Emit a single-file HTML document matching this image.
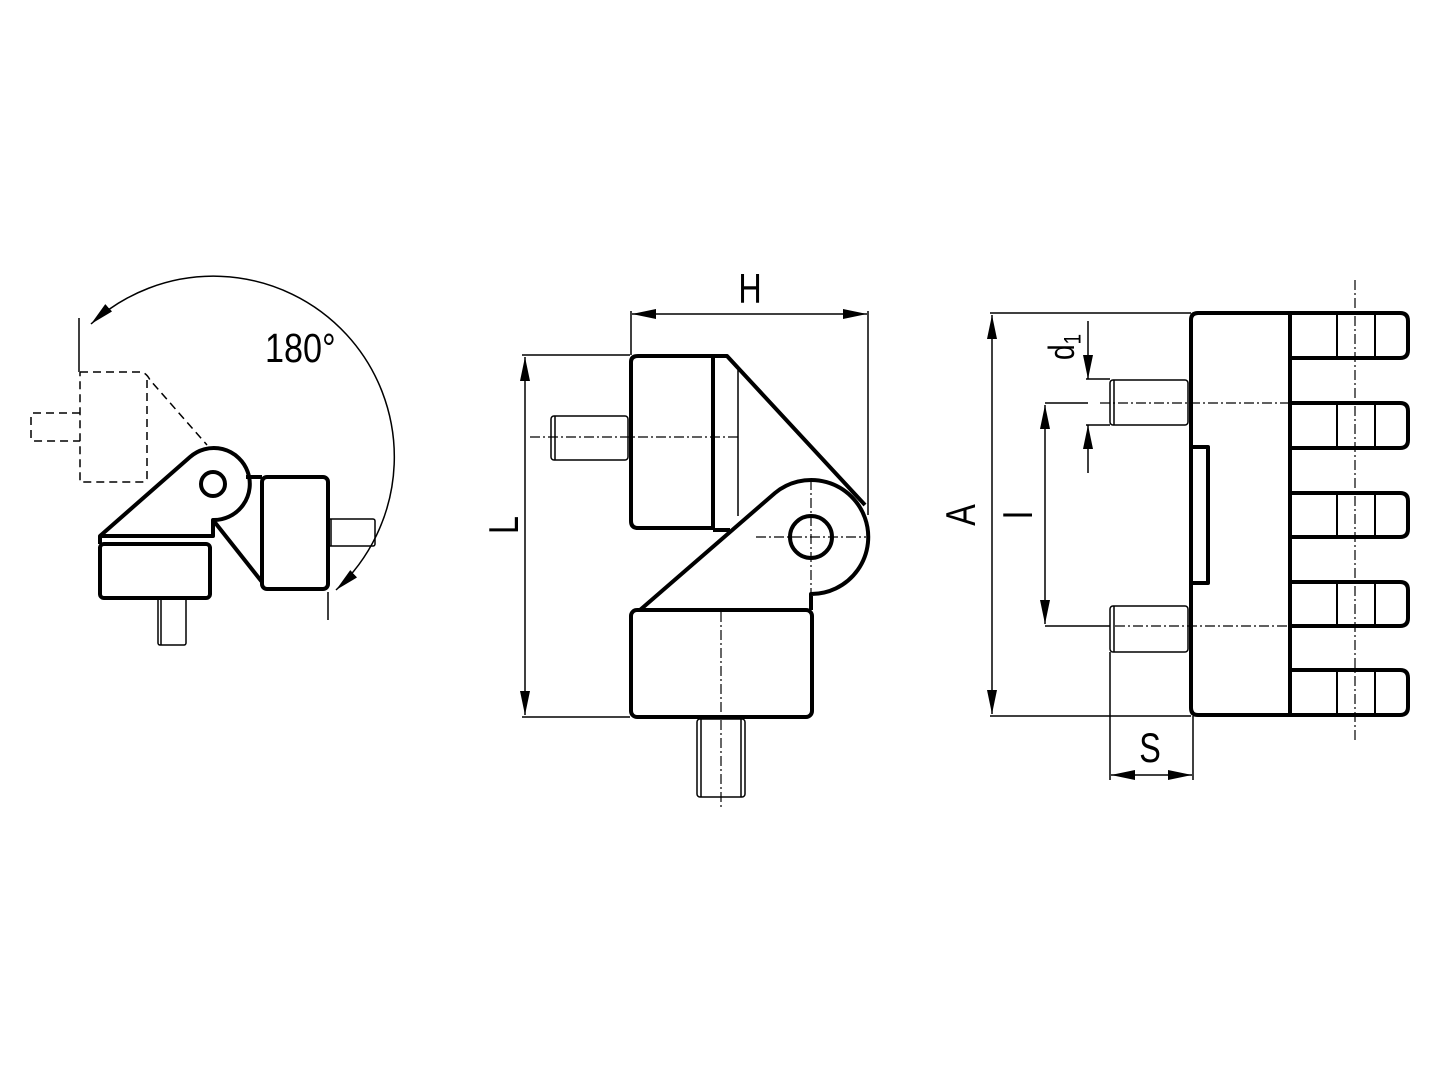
<!DOCTYPE html>
<html><head><meta charset="utf-8"><style>body{margin:0;background:#fff}svg{display:block}text{font-family:"Liberation Sans",sans-serif;fill:#000}</style></head><body>
<svg width="1440" height="1080" viewBox="0 0 1440 1080" xmlns="http://www.w3.org/2000/svg">
<defs>
<marker id="ar" viewBox="0 0 24 10" refX="24" refY="5" markerWidth="24" markerHeight="10" markerUnits="userSpaceOnUse" orient="auto-start-reverse"><path d="M0,0L24,5L0,10z" fill="#000"/></marker>
</defs>
<g fill="none" stroke="#000" stroke-linejoin="round">
<!-- LEFT FIGURE -->
<path d="M91,324 A180,180 0 1 1 336,590" stroke-width="1.5" marker-start="url(#ar)" marker-end="url(#ar)"/>
<line x1="79" y1="318" x2="79" y2="372" stroke-width="1.5"/>
<line x1="328" y1="592" x2="328" y2="620" stroke-width="1.5"/>
<g stroke-dasharray="8,5" stroke-width="1.5">
<path d="M80,372 L142,372 Q147,374 150,380 L207,445"/>
<path d="M147,380 L147,478 Q147,482 142,482 L80,482 L80,372"/>
<path d="M80,413 L33,413 Q31,413 31,416 L31,438 Q31,441 33,441 L80,441"/>
</g>
<g stroke-width="4">
<path d="M100,536 L190,457 A36,36 0 1 1 213,520 L213,536 Z"/>
<circle cx="213" cy="484" r="12"/>
<rect x="100" y="544" width="110" height="54" rx="4"/>
<line x1="100" y1="544" x2="100" y2="536"/>
<path d="M213,520 L262,582"/>
<rect x="262" y="477" width="66" height="112" rx="5"/>
<line x1="246" y1="477" x2="262" y2="477"/>
</g>
<g stroke-width="1.5">
<rect x="328" y="519" width="47" height="27" rx="2"/>
<line x1="331" y1="519" x2="331" y2="546"/>
<rect x="158" y="598" width="28" height="47" rx="2"/>
<line x1="161" y1="598" x2="161" y2="645"/>
</g>
<!-- MIDDLE FIGURE -->
<g stroke-width="1.5">
<line x1="631" y1="355" x2="631" y2="311"/>
<line x1="868" y1="311" x2="868" y2="515"/>
<line x1="632" y1="314" x2="867" y2="314" marker-start="url(#ar)" marker-end="url(#ar)"/>
<line x1="522" y1="355" x2="630" y2="355"/>
<line x1="522" y1="717" x2="630" y2="717"/>
<line x1="525" y1="357" x2="525" y2="715" marker-start="url(#ar)" marker-end="url(#ar)"/>
<rect x="551" y="416" width="77" height="44" rx="3"/>
<line x1="555" y1="416" x2="555" y2="460"/>
<line x1="738" y1="370" x2="738" y2="516"/>
<rect x="697" y="719" width="48" height="78" rx="3"/>
<line x1="701" y1="719" x2="701" y2="797"/>
<line x1="741" y1="719" x2="741" y2="797"/>
</g>
<g stroke-width="1.2" stroke-dasharray="10,3,2,3">
<line x1="530" y1="437" x2="740" y2="437"/>
<line x1="756" y1="537" x2="866" y2="537"/>
<line x1="811" y1="480" x2="811" y2="596"/>
<line x1="721" y1="612" x2="721" y2="808"/>
</g>
<g stroke-width="4">
<path d="M640,610 L775,493 A57,57 0 1 1 811,594 L811,610"/>
<circle cx="811" cy="537" r="21"/>
<rect x="631" y="610" width="181" height="107" rx="6"/>
<path d="M713,528 L638,528 Q631,528 631,521 L631,362 Q631,356 638,356 L727,356 L865,505"/>
<line x1="713" y1="357" x2="713" y2="530"/>
<line x1="713" y1="530" x2="730" y2="530"/>
</g>
<!-- RIGHT FIGURE -->
<g stroke-width="1.5">
<line x1="990" y1="313" x2="1191" y2="313"/>
<line x1="990" y1="716" x2="1191" y2="716"/>
<line x1="992" y1="315" x2="992" y2="714" marker-start="url(#ar)" marker-end="url(#ar)"/>
<line x1="1045" y1="403" x2="1088" y2="403"/>
<line x1="1045" y1="626" x2="1110" y2="626"/>
<line x1="1045" y1="405" x2="1045" y2="624" marker-start="url(#ar)" marker-end="url(#ar)"/>
<line x1="1086" y1="379" x2="1110" y2="379"/>
<line x1="1086" y1="425" x2="1110" y2="425"/>
<line x1="1088" y1="321" x2="1088" y2="379" marker-end="url(#ar)"/>
<line x1="1088" y1="473" x2="1088" y2="425" marker-end="url(#ar)"/>
<line x1="1110" y1="652" x2="1110" y2="780"/>
<line x1="1193" y1="716" x2="1193" y2="780"/>
<line x1="1111" y1="775" x2="1192" y2="775" marker-start="url(#ar)" marker-end="url(#ar)"/>
<rect x="1110" y="380" width="78" height="45" rx="3"/>
<line x1="1114" y1="380" x2="1114" y2="425"/>
<rect x="1110" y="606" width="78" height="46" rx="3"/>
<line x1="1114" y1="606" x2="1114" y2="652"/>
</g>
<g stroke-width="1.2" stroke-dasharray="10,3,2,3">
<line x1="1100" y1="403" x2="1290" y2="403"/>
<line x1="1115" y1="626" x2="1290" y2="626"/>
<line x1="1355" y1="280" x2="1355" y2="740"/>
</g>
<g stroke-width="4">
<path d="M1290,313 L1198,313 Q1191,313 1191,320 L1191,708 Q1191,715 1198,715 L1290,715 Z"/>
<rect x="1191" y="447" width="17" height="136"/>
<path d="M1290,313 L1400,313 Q1408,313 1408,321 L1408,350 Q1408,358 1400,358 L1290,358"/>
<path d="M1290,403 L1400,403 Q1408,403 1408,411 L1408,440 Q1408,448 1400,448 L1290,448"/>
<path d="M1290,493 L1400,493 Q1408,493 1408,501 L1408,529 Q1408,537 1400,537 L1290,537"/>
<path d="M1290,582 L1400,582 Q1408,582 1408,590 L1408,618 Q1408,626 1400,626 L1290,626"/>
<path d="M1290,670 L1400,670 Q1408,670 1408,678 L1408,707 Q1408,715 1400,715 L1290,715"/>
</g>
<g stroke-width="2">
<line x1="1337" y1="315" x2="1337" y2="357"/><line x1="1375" y1="315" x2="1375" y2="357"/>
<line x1="1337" y1="405" x2="1337" y2="447"/><line x1="1375" y1="405" x2="1375" y2="447"/>
<line x1="1337" y1="495" x2="1337" y2="536"/><line x1="1375" y1="495" x2="1375" y2="536"/>
<line x1="1337" y1="584" x2="1337" y2="625"/><line x1="1375" y1="584" x2="1375" y2="625"/>
<line x1="1337" y1="672" x2="1337" y2="714"/><line x1="1375" y1="672" x2="1375" y2="714"/>
</g>
</g>
<text transform="translate(265,362) scale(0.9,1.08)" font-size="38">180°</text>
<text transform="translate(750,303) scale(0.85,1.1)" font-size="38" text-anchor="middle">H</text>
<text transform="translate(1150,762) scale(0.85,1.1)" font-size="38" text-anchor="middle">S</text>
<text transform="translate(518,525) rotate(-90) scale(0.85,1.1)" font-size="38" text-anchor="middle">L</text>
<text transform="translate(975,515) rotate(-90) scale(0.85,1.1)" font-size="38" text-anchor="middle">A</text>
<text transform="translate(1032,515) rotate(-90) scale(0.85,1.1)" font-size="38" text-anchor="middle">I</text>
<text transform="translate(1074,347) rotate(-90) scale(0.85,1.1)" font-size="33" text-anchor="middle">d<tspan font-size="22" dy="6">1</tspan></text>
</svg>
</body></html>
